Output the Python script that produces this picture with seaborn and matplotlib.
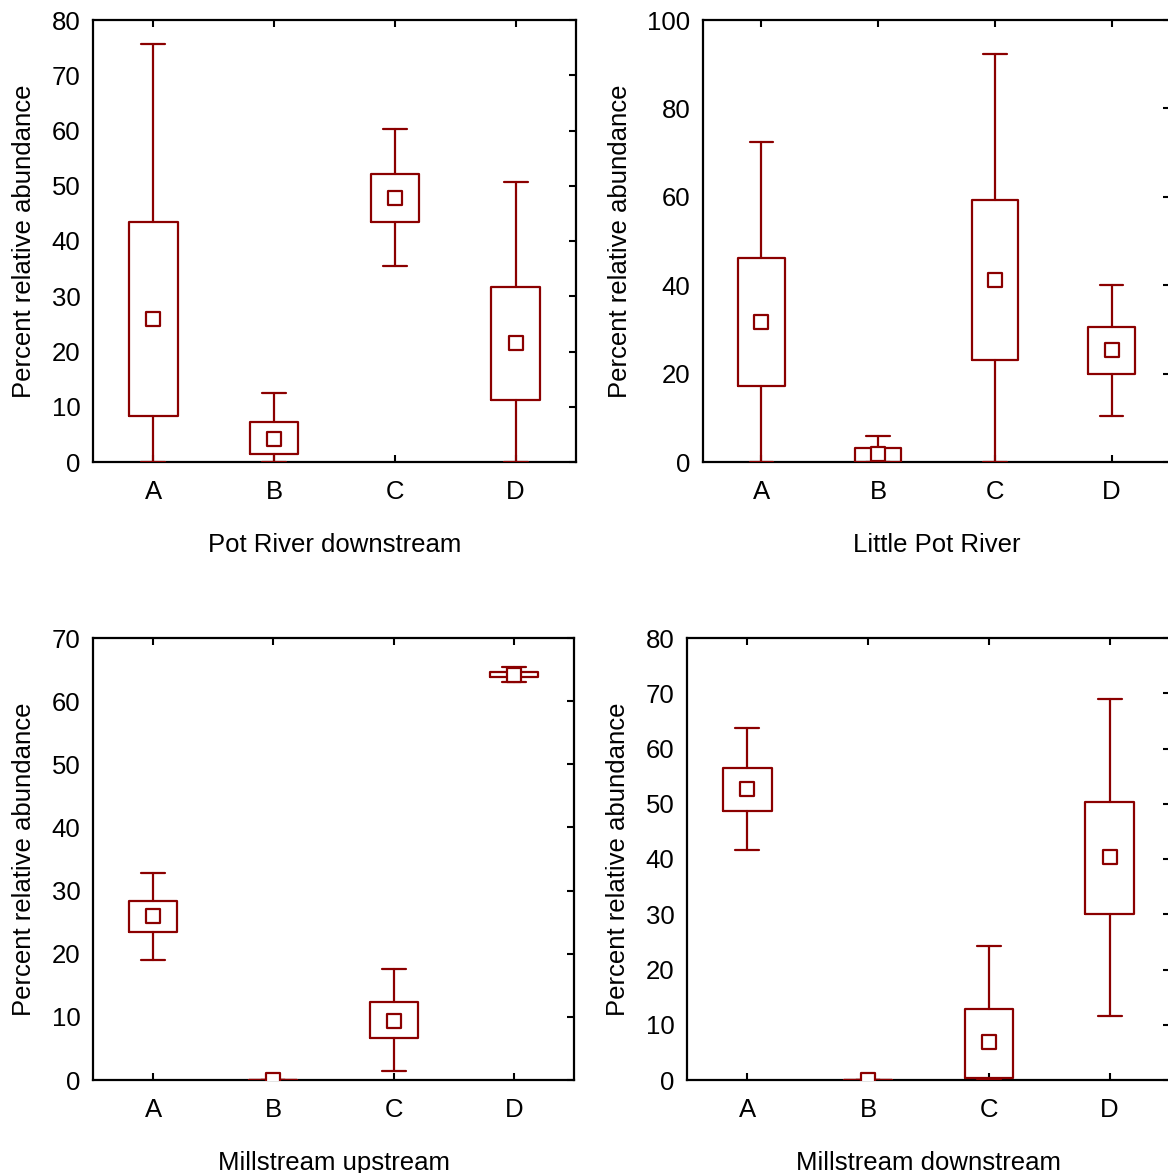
import numpy as np
import matplotlib
matplotlib.use("Agg")
import matplotlib.pyplot as plt
import seaborn as sns

sns.set_style("white")
plt.rcParams["font.family"] = ["Liberation Sans", "DejaVu Sans"]
plt.rcParams["text.color"] = "black"
plt.rcParams["axes.labelcolor"] = "black"
plt.rcParams["xtick.color"] = "black"
plt.rcParams["ytick.color"] = "black"

groups = ["A", "B", "C", "D"]
ylabel_text = "Percent relative abundance"

# Per-site summary values for groups A-D
pot_title = "Pot River downstream"
pot_mean = [25.9, 4.2, 47.7, 21.6]
pot_box_lo = [8.3, 1.45, 43.4, 11.2]
pot_box_hi = [43.4, 7.2, 52.2, 31.7]
pot_whis_lo = [0.0, 0.0, 35.4, 0.0]
pot_whis_hi = [75.7, 12.4, 60.3, 50.6]
pot_ylim = (0, 80)
pot_yticks = [0, 10, 20, 30, 40, 50, 60, 70, 80]

little_title = "Little Pot River"
little_mean = [31.6, 1.8, 41.1, 25.3]
little_box_lo = [17.2, 0.0, 23.0, 20.0]
little_box_hi = [46.1, 3.1, 59.2, 30.5]
little_whis_lo = [0.0, 0.0, 0.0, 10.3]
little_whis_hi = [72.3, 5.95, 92.4, 40.1]
little_ylim = (0, 100)
little_yticks = [0, 20, 40, 60, 80, 100]

mill_up_title = "Millstream upstream"
mill_up_mean = [25.9, 0.0, 9.4, 64.1]
mill_up_box_lo = [23.5, 0.0, 6.7, 63.8]
mill_up_box_hi = [28.3, 0.0, 12.4, 64.6]
mill_up_whis_lo = [19.0, 0.0, 1.4, 63.0]
mill_up_whis_hi = [32.8, 0.0, 17.6, 65.4]
mill_up_ylim = (0, 70)
mill_up_yticks = [0, 10, 20, 30, 40, 50, 60, 70]

mill_down_title = "Millstream downstream"
mill_down_mean = [52.7, 0.0, 6.8, 40.4]
mill_down_box_lo = [48.7, 0.0, 0.4, 30.0]
mill_down_box_hi = [56.5, 0.0, 12.9, 50.4]
mill_down_whis_lo = [41.6, 0.0, 0.0, 11.5]
mill_down_whis_hi = [63.7, 0.0, 24.3, 69.0]
mill_down_ylim = (0, 80)
mill_down_yticks = [0, 10, 20, 30, 40, 50, 60, 70, 80]

COLOR = "#8B0000"
FS = 18.5
W, H = 1168, 1173

fig = plt.figure(figsize=(W / 100, H / 100), dpi=100)


def px_axes(left, top, right, bottom):
    return fig.add_axes([left / W, 1 - bottom / H, (right - left) / W, (bottom - top) / H])


def draw_panel(ax, title, mean, box_lo, box_hi, whis_lo, whis_hi, ylim, yticks):
    pos = np.arange(len(groups))
    stats = []
    for i in range(len(groups)):
        stats.append(dict(med=mean[i], q1=box_lo[i], q3=box_hi[i],
                          whislo=whis_lo[i], whishi=whis_hi[i], fliers=[]))
    line_kw = dict(color=COLOR, linewidth=1.6)
    ax.bxp(stats, positions=pos, widths=0.4, capwidths=0.2, showfliers=False,
           boxprops=line_kw, whiskerprops=line_kw, capprops=line_kw,
           medianprops=dict(linewidth=0), manage_ticks=False, zorder=3)
    sns.scatterplot(x=pos, y=mean, marker="s", s=88, color="white",
                    edgecolor=COLOR, linewidth=1.6, ax=ax, zorder=4, legend=False)
    ax.set_xlim(-0.5, len(groups) - 0.5)
    ax.set_ylim(*ylim)
    ax.set_xticks(pos)
    ax.set_xticklabels(groups)
    ax.set_yticks(yticks)
    ax.tick_params(axis="x", direction="in", top=True, bottom=True, length=5,
                   width=1.5, color="black", labelcolor="black", labelsize=FS, pad=13)
    ax.tick_params(axis="y", direction="in", left=False, right=True, labelleft=True,
                   length=5, width=1.5, color="black", labelcolor="black",
                   labelsize=FS, pad=9)
    for sp in ax.spines.values():
        sp.set_color("black")
        sp.set_linewidth(1.6)
        sp.set_visible(True)
    ax.set_xlabel(title, fontsize=FS, labelpad=20.5, color="black")
    ax.set_ylabel(ylabel_text, fontsize=FS, labelpad=11, color="black")


ax1 = px_axes(93, 20, 576, 462)
draw_panel(ax1, pot_title, pot_mean, pot_box_lo, pot_box_hi, pot_whis_lo, pot_whis_hi,
           pot_ylim, pot_yticks)

ax2 = px_axes(703, 20, 1170, 462)
draw_panel(ax2, little_title, little_mean, little_box_lo, little_box_hi, little_whis_lo,
           little_whis_hi, little_ylim, little_yticks)

ax3 = px_axes(93, 638, 574, 1080)
draw_panel(ax3, mill_up_title, mill_up_mean, mill_up_box_lo, mill_up_box_hi, mill_up_whis_lo,
           mill_up_whis_hi, mill_up_ylim, mill_up_yticks)

ax4 = px_axes(687, 638, 1170, 1080)
draw_panel(ax4, mill_down_title, mill_down_mean, mill_down_box_lo, mill_down_box_hi,
           mill_down_whis_lo, mill_down_whis_hi, mill_down_ylim, mill_down_yticks)

fig.savefig("out.png", dpi=100, facecolor="white")
